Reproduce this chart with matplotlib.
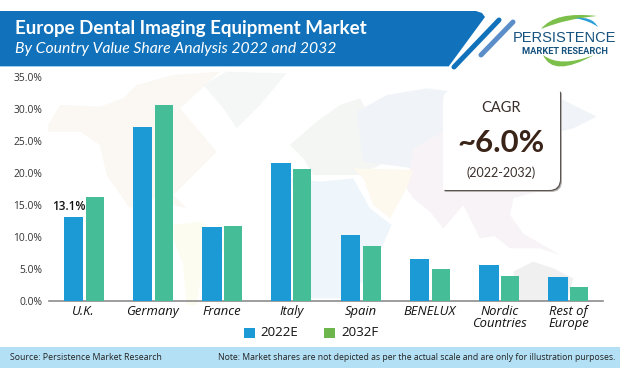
import matplotlib
matplotlib.use("Agg")
import matplotlib.pyplot as plt
from matplotlib.patches import Polygon, Rectangle, PathPatch
from matplotlib.path import Path
import numpy as np

categories = ["U.K.", "Germany", "France", "Italy", "Spain", "BENELUX", "Nordic\nCountries", "Rest of\nEurope"]
values_2022 = [13.1, 27.2, 11.5, 21.5, 10.3, 6.6, 5.6, 3.7]
values_2032 = [16.3, 30.6, 11.7, 20.6, 8.5, 4.9, 3.9, 2.2]
y_ticks = [0, 5, 10, 15, 20, 25, 30, 35]
series_names = ["2022E", "2032F"]
title = "Europe Dental Imaging Equipment Market"
subtitle = "By Country Value Share Analysis 2022 and 2032"

W, H = 620, 368
plt.rcParams['font.family'] = ['Open Sans', 'DejaVu Sans']
fig = plt.figure(figsize=(W/100, H/100), dpi=100, facecolor='white')

bg = fig.add_axes([0, 0, 1, 1], zorder=0)
bg.set_xlim(0, W); bg.set_ylim(H, 0); bg.axis('off')

def z2(pts):
    return [(x/3+40, y/3+65) for x, y in pts]
def z3(pts):
    return [(x/3+320, y/3+65) for x, y in pts]

# faint world-map backdrop
land = [
    (z2([(25,180),(60,120),(180,125),(250,100),(290,60),(400,30),(540,20),(420,130),(530,260),(470,320),(400,390),(440,430),(330,400),(270,430),(200,330),(180,240),(120,200),(25,200)]), '#fbf7f2'),
    (z2([(490,60),(560,20),(740,25),(660,120),(590,190),(550,130)]), '#f5f7f7'),
    (z2([(400,480),(480,470),(560,530),(540,590),(480,650),(470,720),(440,720),(430,600),(400,520)]), '#fcfcf0'),
    (z2([(750,240),(830,170),(900,120),(960,100),(1000,170),(1030,190),(1040,290),(1000,310),(960,330),(820,330),(790,280)]), '#f3f6f2'),
    (z3([(0,350),(100,340),(150,430),(215,480),(180,560),(130,650),(60,700),(-30,700),(-60,540),(-85,340)]), '#eef6fb'),
    (z3([(110,140),(200,90),(320,70),(400,80),(720,100),(830,155),(760,190),(720,200),(580,300),(280,310),(130,290)]), '#f0f4f8'),
    (z3([(280,250),(370,200),(720,200),(720,360),(580,400),(570,450),(620,520),(540,510),(480,520),(430,420),(370,490),(330,440),(280,400),(260,370)]), '#f7f3f7'),
    (z3([(100,310),(280,315),(260,370),(210,460),(160,420),(130,340)]), '#fdf9ef'),
    (z3([(520,510),(600,500),(720,570),(660,550),(570,550)]), '#f8f3f7'),
    (z3([(580,620),(640,590),(700,610),(760,640),(740,710),(600,710)]), '#f0f0f0'),
]
for pts, c in land:
    bg.add_patch(Polygon(pts, closed=True, fc=c, ec='none', zorder=1))

# header band
bg.add_patch(Polygon([(0,11),(476,11),(482,13),(485,17),(449,66),(0,66)], closed=True, fc='#1172bb', ec='none', zorder=3))
bg.add_patch(Rectangle((0,66),449,1.3, fc='#9fd0ee', ec='none', zorder=3))
bg.plot([454,499],[67,20], color='#1172bb', lw=3.6, solid_capstyle='round', zorder=3)
bg.plot([481,513],[55,22], color='#5b8ec9', lw=3.6, solid_capstyle='round', zorder=3)
bg.text(15, 28.5, title, color='white', fontsize=13.5, fontweight='bold', va='center', ha='left', family=['Lato','DejaVu Sans'], zorder=4)
bg.text(15, 49, subtitle, color='white', fontsize=11.3, style='italic', va='center', ha='left', family=['Lato','DejaVu Sans'], zorder=4)

# logo
def crescent(p0, c1, p1, c2, color):
    v = [p0, c1, p1, c2, p0]
    codes = [Path.MOVETO, Path.CURVE3, Path.CURVE3, Path.CURVE3, Path.CURVE3]
    bg.add_patch(PathPatch(Path(v, codes), fc=color, ec='none', zorder=3))
crescent((541,29), (555,11), (597,16), (565,19), '#7cc04b')
crescent((575,18), (592,16), (598,27), (590,21), '#2a9fd6')
crescent((543,55), (553,78), (594,55), (560,68), '#7cc04b')
bg.text(564, 38, "PERSISTENCE", color='#16527f', fontsize=10.5, va='center', ha='center', family=['Liberation Sans','DejaVu Sans'], zorder=4)
bg.text(564.5, 51, "MARKET RESEARCH", color='#16527f', fontsize=6.7, va='center', ha='center', family=['Roboto','DejaVu Sans'], fontweight='bold', zorder=4)

# footer
bg.add_patch(Rectangle((0,347),W,21, fc='#b3e0f5', ec='none', zorder=3))
bg.text(10, 357, "Source: Persistence Market Research", fontsize=6.3, color='#222222', va='center', ha='left', zorder=4)
bg.text(615, 357, "Note: Market shares are not depicted as per the actual scale and are only for illustration purposes.",
        fontsize=6.25, color='#222222', va='center', ha='right', zorder=4)

# chart
ax = fig.add_axes([49/W, 1-300.7/H, 554/W, 223.7/H], zorder=2)
ax.patch.set_alpha(0)
x = np.arange(len(categories))
unit = 554/8
ax.bar(x-10.2/unit, values_2022, 19.4/unit, color='#1b9ad6', zorder=3)
ax.bar(x+11.0/unit, values_2032, 17.9/unit, color='#45bd97', zorder=3)
ax.set_xlim(-0.5, 7.5)
ax.set_ylim(0, 35)
ax.set_yticks(y_ticks)
ax.set_yticklabels([f"{v:.1f}%" for v in y_ticks], fontsize=7.4, color='#333333')
ax.set_xticks(x)
ax.set_xticklabels(categories, fontsize=9.4, style='italic', color='#111111', linespacing=0.95)
ax.tick_params(axis='both', length=0)
ax.tick_params(axis='x', pad=3)
ax.tick_params(axis='y', pad=5)
for s in ['top','right','left']:
    ax.spines[s].set_visible(False)
ax.spines['bottom'].set_color('#8c8c8c')
ax.spines['bottom'].set_linewidth(1.2)
ax.annotate(f"{values_2022[0]}%", (x[0]-10.2/unit, values_2022[0]), xytext=(-3,3), textcoords='offset points',
            ha='center', va='bottom', fontsize=8.4, fontweight=600, color='#111111', zorder=5)

# legend
bg.add_patch(Rectangle((244,328),11,10, fc='#1b9ad6', ec='none', zorder=3))
bg.add_patch(Rectangle((324,328),11,10, fc='#6cb64c', ec='none', zorder=3))
bg.text(260, 333, series_names[0], fontsize=9.6, color='#111111', va='center', ha='left', zorder=4)
bg.text(341, 333, series_names[1], fontsize=9.6, color='#111111', va='center', ha='left', zorder=4)

# CAGR card (above chart)
fg = fig.add_axes([0,0,1,1], zorder=5)
fg.set_xlim(0, W); fg.set_ylim(H, 0); fg.axis('off')
def card(x0, y0, x1, y1, big, small):
    v = [(x0+big,y0),(x1-small,y0),(x1,y0),(x1,y0+small),(x1,y1-big),(x1,y1),(x1-big,y1),
         (x0+small,y1),(x0,y1),(x0,y1-small),(x0,y0+big),(x0,y0),(x0+big,y0)]
    C3 = Path.CURVE3; L = Path.LINETO
    codes = [Path.MOVETO,L,C3,C3,L,C3,C3,L,C3,C3,L,C3,C3]
    return Path(v, codes)
fg.add_patch(PathPatch(card(444,92,562,192,11,2), fc='#b5b2af', ec='none', zorder=1))
fg.add_patch(PathPatch(card(444,91,561,191,11,2), fc='#5a5552', ec='none', zorder=1.5))
fg.add_patch(PathPatch(card(443,90,560,190,11,2), fc='white', ec='none', zorder=2))
fg.text(501, 108, "CAGR", fontsize=10.5, color='#3a2f2a', ha='center', va='center', zorder=3, family=['Lato','DejaVu Sans'])
fg.text(501, 143, "~6.0%", fontsize=22.4, fontweight='bold', color='#3a2418', ha='center', va='center', zorder=3, family=['Lato','DejaVu Sans'])
fg.text(501, 172.5, "(2022-2032)", fontsize=9, color='#3a2f2a', ha='center', va='center', zorder=3, family=['Lato','DejaVu Sans'])

fig.savefig("out.png", dpi=100, facecolor='white')
